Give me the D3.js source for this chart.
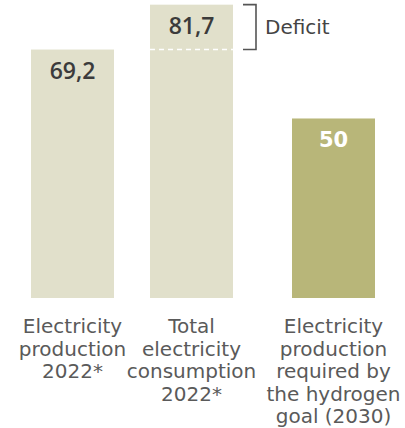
<!DOCTYPE html>
<html>
<head>
<meta charset="utf-8">
<script src="https://cdn.jsdelivr.net/npm/d3@7"></script>
<style>
  html, body { margin: 0; padding: 0; background: #ffffff; }
  svg { display: block; }
  text { font-family: "DejaVu Sans", sans-serif; }
</style>
</head>
<body>
<div id="chart"></div>
<script>
// ---- data ----
const categories = [
  "Electricity production 2022*",
  "Total electricity consumption 2022*",
  "Electricity production required by the hydrogen goal (2030)"
];
const labelLines = [
  ["Electricity", "production", "2022*"],
  ["Total", "electricity", "consumption", "2022*"],
  ["Electricity", "production", "required by", "the hydrogen", "goal (2030)"]
];
const values = [69.2, 81.7, 50];
const valueLabels = ["69,2", "81,7", "50"];
const groups = ["2022", "2022", "2030"];
const deficitLabel = "Deficit";

// ---- layout ----
const W = 405, H = 428;
const baseY = 298;
const barColors = { "2022": "#e1e0cb", "2030": "#b8b679" };
const groupGap = { "2022": 0, "2030": 23 };

const svg = d3.select("#chart").append("svg")
  .attr("width", W).attr("height", H);

const x = d3.scaleBand()
  .domain(categories)
  .range([31, 352])
  .paddingInner(36 / 119)
  .paddingOuter(0);

const y = d3.scaleLinear()
  .domain([0, 83])
  .range([baseY, 0]);

const xPos = (d, i) => x(d) + groupGap[groups[i]];

// bars
svg.selectAll("rect.bar")
  .data(categories)
  .join("rect")
  .attr("class", "bar")
  .attr("x", (d, i) => xPos(d, i))
  .attr("y", (d, i) => y(values[i]))
  .attr("width", x.bandwidth())
  .attr("height", (d, i) => baseY - y(values[i]))
  .attr("fill", (d, i) => barColors[groups[i]]);

// value labels
svg.selectAll("text.val")
  .data(categories)
  .join("text")
  .attr("class", "val")
  .attr("x", (d, i) => xPos(d, i) + x.bandwidth() / 2)
  .attr("y", (d, i) => y(values[i]) + 29)
  .attr("text-anchor", "middle")
  .style("font-family", (d, i) => groups[i] === "2030" ? "'DejaVu Sans', sans-serif" : "'Open Sans', sans-serif")
  .attr("font-size", (d, i) => groups[i] === "2030" ? 21 : 23)
  .attr("font-weight", (d, i) => groups[i] === "2030" ? 700 : 600)
  .attr("fill", (d, i) => groups[i] === "2030" ? "#ffffff" : "#3b3b3b")
  .text((d, i) => valueLabels[i]);

// dashed line in consumption bar at production level
const prodIdx = 0, consIdx = 1;
svg.append("line")
  .attr("x1", xPos(categories[consIdx], consIdx))
  .attr("x2", xPos(categories[consIdx], consIdx) + x.bandwidth())
  .attr("y1", y(values[prodIdx]))
  .attr("y2", y(values[prodIdx]))
  .attr("stroke", "#ffffff")
  .attr("stroke-width", 1.5)
  .attr("stroke-dasharray", "5,4");

// deficit bracket
const bx = xPos(categories[consIdx], consIdx) + x.bandwidth() + 23;
const bTop = y(values[consIdx]);
const bBot = y(values[prodIdx]);
svg.append("path")
  .attr("d", `M${bx - 13},${bTop} H${bx} V${bBot} H${bx - 13}`)
  .attr("fill", "none")
  .attr("stroke", "#555555")
  .attr("stroke-width", 1.6);
svg.append("text")
  .attr("x", bx + 9)
  .attr("y", (bTop + bBot) / 2 + 7)
  .attr("font-size", 20)
  .attr("fill", "#444444")
  .text(deficitLabel);

// category labels
const lab = svg.selectAll("text.cat")
  .data(categories)
  .join("text")
  .attr("class", "cat")
  .attr("text-anchor", "middle")
  .attr("font-size", 20)
  .attr("fill", "#5a5a5a")
  .attr("transform", (d, i) => `translate(${xPos(d, i) + x.bandwidth() / 2},${baseY + 35})`);
lab.selectAll("tspan")
  .data((d, i) => labelLines[i])
  .join("tspan")
  .attr("x", 0)
  .attr("y", (d, j) => j * 22.5)
  .text(d => d);
</script>
</body>
</html>
